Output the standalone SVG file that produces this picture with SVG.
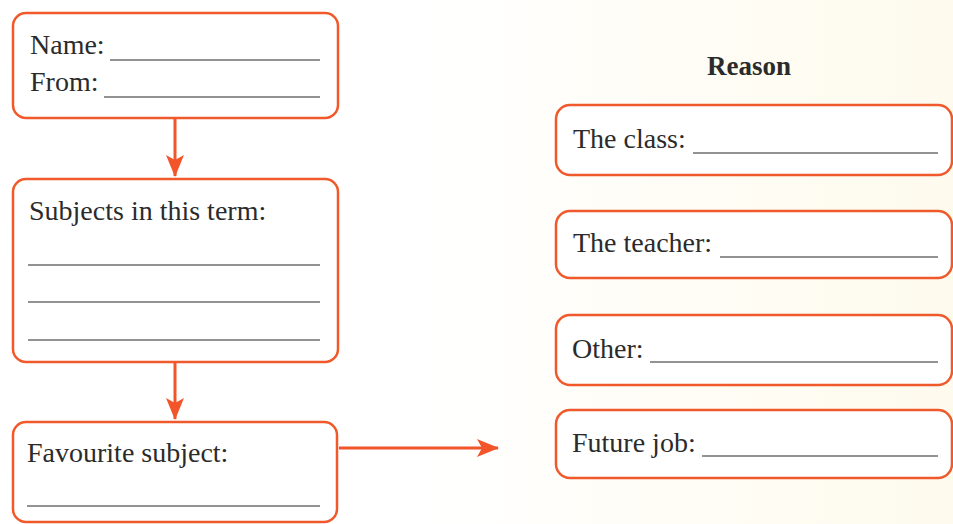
<svg xmlns="http://www.w3.org/2000/svg" width="953" height="524" viewBox="0 0 953 524">
  <defs>
    <linearGradient id="paper" x1="0" y1="0" x2="1" y2="0">
      <stop offset="0" stop-color="#ffffff"/>
      <stop offset="0.45" stop-color="#fffdf6"/>
      <stop offset="1" stop-color="#fefaee"/>
    </linearGradient>
    <marker id="arrow" viewBox="0 0 22 20" refX="21" refY="10" markerWidth="22" markerHeight="20" markerUnits="userSpaceOnUse" orient="auto">
      <path d="M0,1 L22,10 L0,19 L5,10 Z" fill="#f2552a"/>
    </marker>
    <style>
      .box { fill: #ffffff; stroke: #f0592b; stroke-width: 2.5; }
      .lbl { font-family: "Liberation Serif", "Times New Roman", serif; font-size: 28px; fill: #2b2b2b; }
      .head { font-family: "Liberation Serif", "Times New Roman", serif; font-size: 27px; font-weight: bold; fill: #2b2b2b; }
      .blank { stroke: #6e6e6e; stroke-width: 1.6; }
      .conn { stroke: #f2552a; stroke-width: 3; fill: none; }
    </style>
  </defs>

  <rect x="0" y="0" width="953" height="524" fill="#ffffff"/>
  <rect x="420" y="0" width="533" height="524" fill="url(#paper)"/>

  <!-- left column -->
  <g id="node-name">
    <rect class="box" x="13" y="13" width="325" height="105" rx="13"/>
    <text class="lbl" x="30" y="54">Name:</text>
    <line class="blank" x1="110" y1="60" x2="320" y2="60"/>
    <text class="lbl" x="30" y="91">From:</text>
    <line class="blank" x1="104" y1="97" x2="320" y2="97"/>
  </g>

  <g id="node-subjects">
    <rect class="box" x="13" y="179" width="325" height="183" rx="13"/>
    <text class="lbl" x="29" y="220">Subjects in this term:</text>
    <line class="blank" x1="28" y1="265" x2="320" y2="265"/>
    <line class="blank" x1="28" y1="302" x2="320" y2="302"/>
    <line class="blank" x1="28" y1="340" x2="320" y2="340"/>
  </g>

  <g id="node-favourite">
    <rect class="box" x="13" y="422" width="324" height="100" rx="13"/>
    <text class="lbl" x="27" y="462">Favourite subject:</text>
    <line class="blank" x1="27" y1="506" x2="320" y2="506"/>
  </g>

  <!-- right column -->
  <g id="title-reason">
    <text class="head" x="749" y="75" text-anchor="middle">Reason</text>
  </g>

  <g id="node-class">
    <rect class="box" x="556" y="105" width="396" height="70" rx="14"/>
    <text class="lbl" x="573" y="148">The class:</text>
    <line class="blank" x1="693" y1="153" x2="938" y2="153"/>
  </g>

  <g id="node-teacher">
    <rect class="box" x="556" y="211" width="396" height="67" rx="14"/>
    <text class="lbl" x="573" y="252">The teacher:</text>
    <line class="blank" x1="720" y1="257" x2="938" y2="257"/>
  </g>

  <g id="node-other">
    <rect class="box" x="556" y="315" width="396" height="70" rx="14"/>
    <text class="lbl" x="572" y="358">Other:</text>
    <line class="blank" x1="650" y1="362" x2="938" y2="362"/>
  </g>

  <g id="node-job">
    <rect class="box" x="556" y="410" width="396" height="68" rx="14"/>
    <text class="lbl" x="572" y="452">Future job:</text>
    <line class="blank" x1="702" y1="456" x2="938" y2="456"/>
  </g>

  <!-- connectors -->
  <g id="connectors">
    <line class="conn" x1="175" y1="119" x2="175" y2="176" marker-end="url(#arrow)"/>
    <line class="conn" x1="175" y1="363" x2="175" y2="419" marker-end="url(#arrow)"/>
    <line class="conn" x1="339" y1="448" x2="498" y2="448" marker-end="url(#arrow)"/>
  </g>
</svg>
